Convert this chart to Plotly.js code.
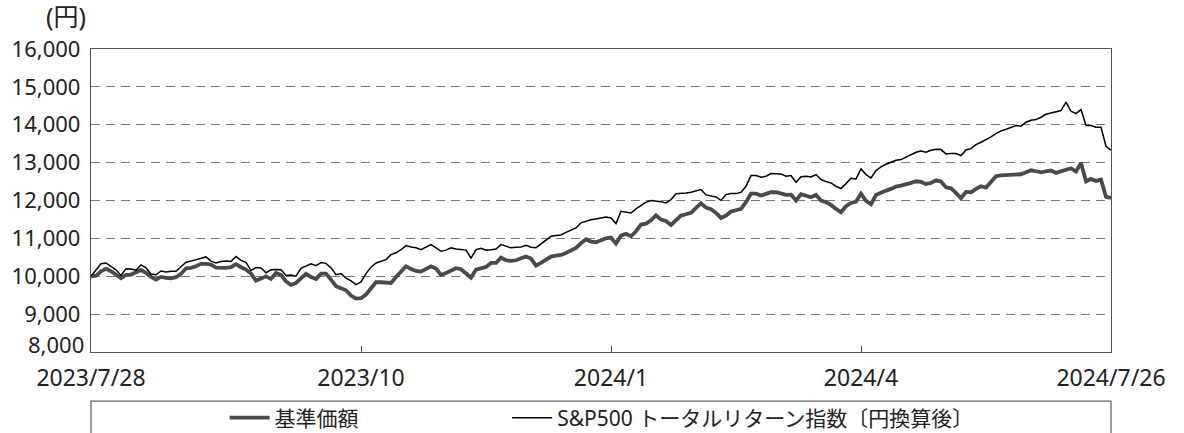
<!DOCTYPE html>
<html>
<head>
<meta charset="utf-8">
<script src="https://cdn.plot.ly/plotly-3.0.1.min.js"></script>
<style>
html,body{margin:0;padding:0;background:#fff;}
#chart{width:1184px;height:433px;}
</style>
</head>
<body>
<div id="chart"></div>
<script>
// Tick labels on the x axis (category index positions)
const tickIdx = [0, 54, 104, 154, 204];
const tickLabels = ["2023/7/28", "2023/10", "2024/1", "2024/4", "2024/7/26"];

// y axis ticks (yen)
const yTickVals = [9000, 10000, 11000, 12000, 13000, 14000, 15000, 16000];
const yMin = 8000, yMax = 16000;

const seriesNames = ["基準価額", "S&P500 トータルリターン指数〔円換算後〕"];

// 基準価額 (fund NAV, yen)
const navValues = [
10000,10018,10132,10194,10132,10044,9947,10035,10044,10106,
10167,10088,9982,9912,9982,9956,9947,9974,10062,10211,
10220,10264,10326,10326,10308,10229,10220,10220,10238,10317,
10238,10176,10070,9886,9938,10000,9930,10088,10035,9868,
9771,9824,9947,10062,9982,9930,10070,10070,9912,9736,
9683,9630,9490,9410,9420,9516,9683,9842,9842,9824,
9824,9982,
10132,10264,10194,10141,10123,10194,10264,10202,
10035,10088,10158,10211,10185,10088,9965,10176,10220,10246,
10352,10352,10493,10422,10405,10422,10475,10519,10466,10282,
10352,10440,10519,10546,10563,10616,10695,10748,10871,10977,
10915,10898,10950,11003,11021,10862,11074,11118,11056,11188,
11364,11390,11478,11610,11496,11461,11355,11496,11602,11637,
11672,11804,11927,11813,11769,11672,11540,11602,11707,11742,
11778,11954,12182,12182,12130,12174,12218,12218,
12191,12147,12156,11998,12165,12130,12086,12147,11998,11954,11883,11778,
11690,11848,11936,11971,12182,11989,11901,12147,12218,12262,
12306,12367,12394,12420,12464,12508,12490,12438,12464,12534,
12500,12350,12323,12200,12059,12226,12218,12306,12376,12341,
12473,12640,12666,12675,12684,12684,12693,12746,12798,12772,
12746,12772,12790,12728,12763,12798,12851,12763,12992,12508,
12570,12517,12552,12094,12068
];

// S&P500 total return index (yen converted)
const spValues = [
10000,10180,10330,10350,10250,10170,10020,10200,10190,10160,
10300,10220,10060,10040,10140,10110,10130,10130,10250,10370,
10400,10430,10480,10510,10400,10350,10390,10400,10390,10520,
10420,10370,10150,10230,10220,10090,10170,10180,10170,10020,
10030,10000,10210,10280,10330,10280,10360,10340,10220,10040,
10070,9950,9880,9780,9850,10070,10240,10350,10400,10440,
10570,10620,
10700,10810,10775,10750,10700,10775,10836,10750,
10660,10690,10750,10720,10700,10690,10480,10700,10740,10690,
10700,10720,10835,10790,10750,10765,10775,10820,10765,10755,
10860,10950,11055,11075,11090,11160,11215,11275,11410,11460,
11490,11514,11550,11566,11540,11390,11716,11690,11670,11780,
11866,11954,11998,11990,11970,11936,12024,12180,12200,12200,
12218,12253,12290,12148,12130,12095,12006,12156,12182,12182,
12218,12376,12658,12658,12614,12640,12710,12710,
12702,12640,12658,12480,12630,12640,12622,12684,12552,12500,12464,12376,
12314,12446,12587,12570,12834,12684,12596,12790,12886,12957,
13018,13062,13080,13142,13221,13274,13309,13274,13326,13353,
13344,13230,13238,13238,13186,13335,13370,13476,13538,13600,
13678,13766,13837,13880,13925,13978,13960,14066,14118,14136,
14198,14277,14312,14338,14374,14600,14356,14294,14400,13978,
13978,13934,13934,13432,13326
];

const xIdx = navValues.map((_, i) => i);
const FONT = '"Noto Sans", "Noto Sans CJK JP", sans-serif';
const TXT = '#222';

const traces = [
  {x: xIdx, y: navValues, name: seriesNames[0], type: 'scatter', mode: 'lines',
   line: {color: '#4a4a4a', width: 3.8}, legend: 'legend'},
  {x: xIdx, y: spValues, name: seriesNames[1], type: 'scatter', mode: 'lines',
   line: {color: '#000', width: 1.5}, legend: 'legend2'}
];

const layout = {
  width: 1184, height: 433,
  margin: {l: 91, r: 73, t: 49, b: 81, pad: 0, autoexpand: false},
  paper_bgcolor: '#fff', plot_bgcolor: '#fff',
  font: {family: FONT, color: TXT, size: 21},
  showlegend: true,
  xaxis: {
    range: [0, navValues.length - 1],
    tickmode: 'array', tickvals: tickIdx, ticktext: tickLabels,
    ticks: 'inside', ticklen: 6, tickcolor: '#444', tickwidth: 1,
    ticklabelstandoff: 5,
    showgrid: false, zeroline: false,
    showline: true, linecolor: '#555', linewidth: 1.2, mirror: true,
    tickfont: {family: FONT, size: 23, color: TXT},
    fixedrange: true
  },
  yaxis: {
    range: [yMin, yMax], tickmode: 'array', tickvals: yTickVals,
    tickformat: ',.0f', ticks: '', ticklabelstandoff: 5,
    showgrid: true, gridcolor: '#7a7a7a', gridwidth: 1.2, griddash: '9px,6px',
    zeroline: false,
    showline: true, linecolor: '#555', linewidth: 1.2, mirror: true,
    tickfont: {family: FONT, size: 22, color: TXT},
    fixedrange: true
  },
  legend: {
    orientation: 'h', x: 0.131, xanchor: 'left', y: -0.218, yanchor: 'middle',
    bgcolor: 'rgba(0,0,0,0)', borderwidth: 0, itemwidth: 40,
    font: {family: FONT, size: 21, color: TXT}
  },
  legend2: {
    orientation: 'h', x: 0.408, xanchor: 'left', y: -0.218, yanchor: 'middle',
    bgcolor: 'rgba(0,0,0,0)', borderwidth: 0, itemwidth: 40,
    font: {family: FONT, size: 21, color: TXT}
  },
  shapes: [
    {type: 'rect', xref: 'paper', yref: 'paper', x0: 0, x1: 1, y0: -0.162, y1: -0.35,
     line: {color: '#666', width: 1.3}, fillcolor: 'rgba(0,0,0,0)', layer: 'below'}
  ],
  annotations: [
    {text: '(円)', xref: 'paper', yref: 'paper', x: -0.0245, y: 1.11,
     xanchor: 'center', yanchor: 'middle', showarrow: false,
     font: {family: FONT, size: 25, color: TXT}},
    // lowest y tick label, lifted slightly above the axis as in the original
    {text: yMin.toLocaleString('en-US'), xref: 'paper', yref: 'y', x: 0, y: yMin,
     xanchor: 'right', yanchor: 'middle', xshift: -5, yshift: 8, showarrow: false,
     font: {family: FONT, size: 22, color: TXT}}
  ]
};

Plotly.newPlot('chart', traces, layout, {staticPlot: true, displayModeBar: false});
</script>
</body>
</html>
